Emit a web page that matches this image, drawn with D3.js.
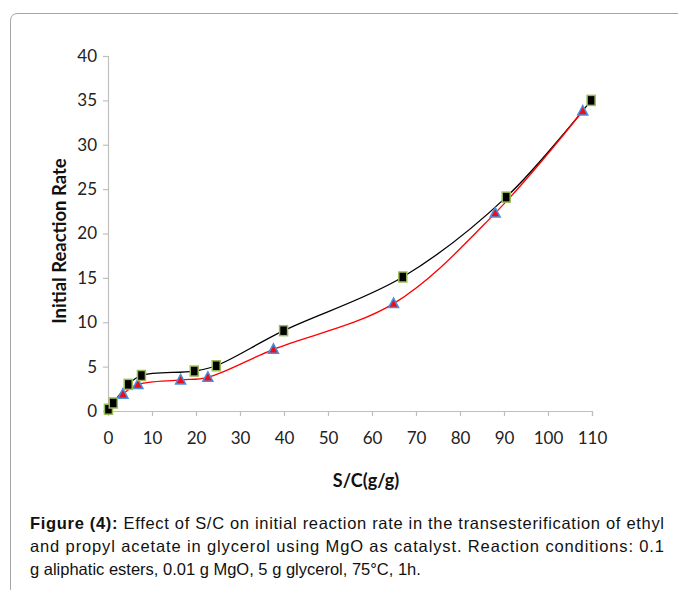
<!DOCTYPE html>
<html>
<head>
<meta charset="utf-8">
<script src="https://cdn.jsdelivr.net/npm/d3@7"></script>
<style>
  html, body { margin: 0; padding: 0; background: #fff; }
  svg { display: block; }
</style>
</head>
<body>
<svg id="chart" width="678" height="590"></svg>
<script>
// ---- data ----
const squareX = [0.1, 1.2, 4.6, 7.6, 19.6, 24.6, 39.9, 67.0, 90.5, 109.8];
const squareY = [0.2, 0.9, 3.0, 4.0, 4.5, 5.1, 9.05, 15.1, 24.1, 35.0];
const triangleX = [3.4, 6.8, 16.5, 22.7, 37.6, 64.9, 88.0, 107.9];
const triangleY = [1.9, 3.0, 3.5, 3.8, 6.95, 12.1, 22.3, 33.8];
const xTicks = [0, 10, 20, 30, 40, 50, 60, 70, 80, 90, 100, 110];
const yTicks = [0, 5, 10, 15, 20, 25, 30, 35, 40];
const xTitle = "S/C(g/g)";
const yTitle = "Initial Reaction Rate";
const captionLines = [
  [["Figure (4):", true], [" Effect of S/C on initial reaction rate in the transesterification of ethyl", false]],
  [["and propyl acetate in glycerol using MgO as catalyst. Reaction conditions: 0.1", false]],
  [["g aliphatic esters, 0.01 g MgO, 5 g glycerol, 75°C, 1h.", false]]
];

const svg = d3.select("#chart");

// frame (rounded top-left corner)
svg.append("path")
  .attr("d", "M10.5,590 L10.5,21 Q10.5,13.5 18,13.5 L678,13.5")
  .attr("fill", "none").attr("stroke", "#a6a6a6").attr("stroke-width", 1);

const x = d3.scaleLinear().domain([0, 110]).range([108, 592]);
const y = d3.scaleLinear().domain([0, 40]).range([411, 56]);

const axisColor = "#bfbfbf";
const tickFont = "Lato, 'Open Sans', sans-serif";

const xAxis = svg.append("g").attr("transform", `translate(0,${y(0)})`)
  .call(d3.axisBottom(x).tickValues(xTicks).tickSize(5).tickPadding(16).tickFormat(d3.format("d")));
const yAxis = svg.append("g").attr("transform", `translate(${x(0)},0)`)
  .call(d3.axisLeft(y).tickValues(yTicks).tickSize(5).tickPadding(6).tickFormat(d3.format("d")));
[xAxis, yAxis].forEach(g => {
  g.selectAll("path.domain").attr("stroke", axisColor).attr("stroke-width", 1.2);
  g.selectAll(".tick line").attr("stroke", axisColor).attr("stroke-width", 1.2);
  g.selectAll(".tick text").attr("fill", "#222").style("font-family", tickFont).style("font-size", "17px");
});

// axis titles
svg.append("text").attr("x", 366).attr("y", 487).attr("text-anchor", "middle")
  .style("font-family", tickFont).style("font-weight", "bold").style("font-size", "18px").attr("fill", "#111")
  .text(xTitle);
svg.append("text").attr("transform", "translate(66,241) rotate(-90)").attr("text-anchor", "middle")
  .style("font-family", tickFont).style("font-weight", "bold").style("font-size", "18.5px").attr("fill", "#111")
  .text(yTitle);

// lines
const blackPts = squareX.map((v, i) => [v, squareY[i]]);
const redPts = triangleX.map((v, i) => [v, triangleY[i]]);
const line = d3.line().x(d => x(d[0])).y(d => y(d[1])).curve(d3.curveCatmullRom.alpha(0.5));
svg.append("path").datum(blackPts).attr("d", line).attr("fill", "none").attr("stroke", "#000").attr("stroke-width", 1.3);
svg.append("path").datum(redPts).attr("d", line).attr("fill", "none").attr("stroke", "#ff0000").attr("stroke-width", 1.3);

// triangle markers
svg.append("g").selectAll("path").data(redPts).join("path")
  .attr("transform", d => `translate(${x(d[0])},${y(d[1])})`)
  .attr("d", "M0,-5.5 L5,4 L-5,4 Z")
  .attr("fill", "#e8101a").attr("stroke", "#4a8fe0").attr("stroke-width", 1.5).attr("stroke-linejoin", "miter");

// square markers
svg.append("g").selectAll("rect").data(blackPts).join("rect")
  .attr("x", d => x(d[0]) - 4).attr("y", d => y(d[1]) - 5)
  .attr("width", 8).attr("height", 10)
  .attr("fill", "#000").attr("stroke", "#9bbb59").attr("stroke-width", 1.5);

// caption (justified paragraph: first two lines stretched to the column width)
const capLeft = 30, capRight = 664;
const cap = svg.append("g");
captionLines.forEach((parts, i) => {
  const t = cap.append("text").attr("x", capLeft).attr("y", 529 + i * 23)
    .style("font-family", "'Liberation Sans', Arial, sans-serif").style("font-size", "16.5px").attr("fill", "#111");
  parts.forEach(p => t.append("tspan").style("font-weight", p[1] ? "bold" : "normal").text(p[0]));
  if (i < captionLines.length - 1) {
    const natural = t.node().getComputedTextLength();
    const nChars = parts.map(p => p[0]).join("").length;
    t.style("letter-spacing", ((capRight - capLeft - natural) / (nChars - 1)) + "px");
  }
});
</script>
</body>
</html>
